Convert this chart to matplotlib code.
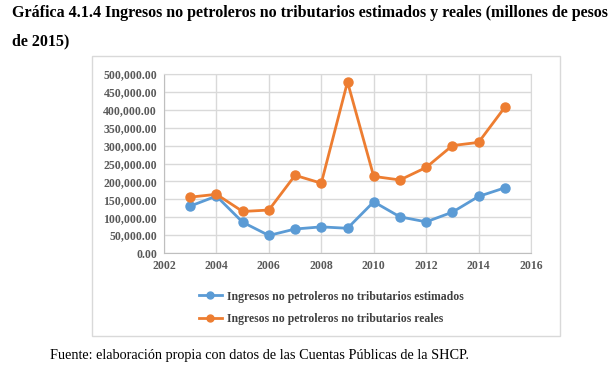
import matplotlib.pyplot as plt
from matplotlib.patches import Rectangle
from matplotlib.ticker import FuncFormatter

# Data (millones de pesos de 2015)
years = [2003, 2004, 2005, 2006, 2007, 2008, 2009, 2010, 2011, 2012, 2013, 2014, 2015]
estimados = [131000, 159000, 86000, 49000, 67000, 73000, 69000, 143000, 101000, 87000, 114000, 158000, 182000]
reales = [156000, 164000, 116000, 120000, 217000, 195000, 478000, 214000, 204000, 239000, 300000, 309000, 407000]
labels = ['Ingresos no petroleros no tributarios estimados',
          'Ingresos no petroleros no tributarios reales']

plt.rcParams['font.family'] = ['Liberation Serif', 'DejaVu Serif']

W, H = 615, 367
fig = plt.figure(figsize=(W / 100, H / 100), dpi=100)

# Title
fig.text(12 / W, 1 - 13 / H,
         'Gráfica 4.1.4 Ingresos no petroleros no tributarios estimados y reales (millones de pesos',
         fontsize=11.5, fontweight='bold', va='center', ha='left')
fig.text(12 / W, 1 - 41 / H, 'de 2015)',
         fontsize=11.5, fontweight='bold', va='center', ha='left')

# Chart border
fig.patches.append(Rectangle((92 / W, 1 - 336 / H), (560 - 92) / W, (336 - 56) / H,
                             transform=fig.transFigure, fill=False,
                             edgecolor='#d9d9d9', linewidth=1))

# Plot area
ax = fig.add_axes([164 / W, 1 - 253 / H, (531 - 164) / W, (253 - 74) / H])
ax.plot(years, estimados, color='#5b9bd5', linewidth=2, marker='o', markersize=6.5,
        label=labels[0])
ax.plot(years, reales, color='#ed7d31', linewidth=2, marker='o', markersize=6.5,
        label=labels[1])

ax.set_xlim(2002, 2016)
ax.set_ylim(0, 500000)
ax.set_xticks(range(2002, 2017, 2))
ax.set_yticks(range(0, 500001, 50000))
ax.yaxis.set_major_formatter(FuncFormatter(lambda v, p: f'{v:,.2f}'))
ax.grid(True, color='#d9d9d9', linewidth=1)
ax.set_axisbelow(True)
for side in ['top', 'right']:
    ax.spines[side].set_color('#d9d9d9')
for side in ['left', 'bottom']:
    ax.spines[side].set_color('#bfbfbf')
ax.tick_params(length=0, labelsize=8.5, labelcolor='#595959', pad=5)
for t in ax.get_xticklabels() + ax.get_yticklabels():
    t.set_fontweight('bold')

leg = fig.legend(loc='upper left', bbox_to_anchor=(188 / W, 1 - 280 / H),
                 frameon=False, prop={'size': 8.5, 'weight': 'bold'},
                 handlelength=2.0, labelspacing=0.9, handletextpad=0.4)
for t in leg.get_texts():
    t.set_color('#404040')
for h in leg.legend_handles:
    h.set_markersize(5)

# Source note
fig.text(50 / W, 1 - 356 / H,
         'Fuente: elaboración propia con datos de las Cuentas Públicas de la SHCP.',
         fontsize=10.25, va='center', ha='left')

fig.savefig('out.png', dpi=100)
